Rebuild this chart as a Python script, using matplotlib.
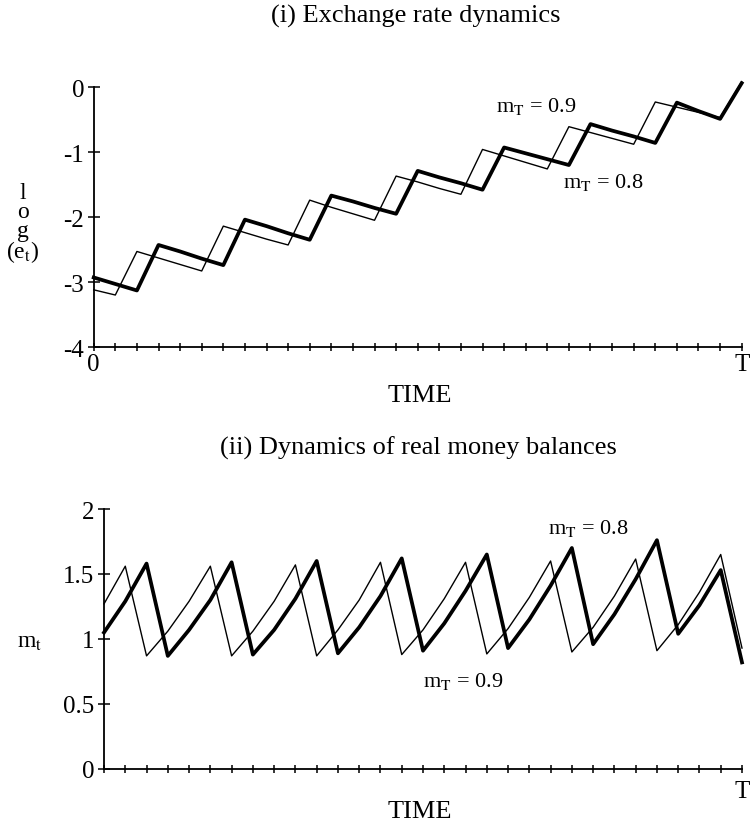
import matplotlib
matplotlib.use("Agg")
import matplotlib.pyplot as plt
import numpy as np

plt.rcParams['font.family'] = ['Liberation Serif', 'DejaVu Serif']
plt.rcParams['mathtext.fontset'] = 'stix'
plt.rcParams['axes.unicode_minus'] = False

# time grid 0..T (T = 30 periods)
t = np.arange(0, 31)

# log(e_t), m_T = 0.9 (thin) and m_T = 0.8 (thick)
loge_09 = [-3.12, -3.20, -2.53, -2.63, -2.73, -2.83, -2.14, -2.24, -2.34, -2.43,
           -1.74, -1.85, -1.95, -2.05, -1.37, -1.46, -1.56, -1.65, -0.96, -1.06,
           -1.16, -1.26, -0.61, -0.70, -0.79, -0.88, -0.23, -0.31, -0.39, -0.47,
           0.08]
loge_08 = [-2.93, -3.03, -3.13, -2.43, -2.53, -2.64, -2.74, -2.04, -2.14, -2.25,
           -2.35, -1.67, -1.76, -1.86, -1.95, -1.29, -1.39, -1.48, -1.58, -0.93,
           -1.02, -1.11, -1.20, -0.57, -0.67, -0.76, -0.86, -0.24, -0.37, -0.49,
           0.06]

# real money balances m_t
m_09 = [1.27, 1.56, 0.87, 1.06, 1.29, 1.56, 0.87, 1.06, 1.29, 1.57,
        0.87, 1.07, 1.30, 1.59, 0.88, 1.07, 1.31, 1.59, 0.885, 1.08,
        1.32, 1.60, 0.90, 1.09, 1.33, 1.615, 0.91, 1.11, 1.36, 1.65,
        0.93]
m_08 = [1.05, 1.29, 1.58, 0.87, 1.07, 1.30, 1.59, 0.88, 1.07, 1.31,
        1.60, 0.89, 1.09, 1.33, 1.62, 0.91, 1.12, 1.37, 1.65, 0.93,
        1.15, 1.41, 1.70, 0.96, 1.19, 1.46, 1.76, 1.04, 1.26, 1.53,
        0.82]

fs = 19
tfs = 18

fig = plt.figure(figsize=(7.51, 8.29), dpi=100)

def style_axes(ax):
    for s in ['top', 'right']:
        ax.spines[s].set_visible(False)
    for s in ['left', 'bottom']:
        ax.spines[s].set_linewidth(1.3)
    ax.set_xlim(0, 30)
    ax.set_xticks(t)
    ax.tick_params(axis='x', direction='inout', length=6, width=1.1, labelsize=tfs, pad=1)
    ax.tick_params(axis='y', direction='inout', length=8, width=1.1, labelsize=tfs, pad=3)

# (i) exchange rate
ax1 = fig.add_axes([0.1248, 0.5802, 0.8628, 0.3136])
ax1.plot(t, loge_09, color='black', lw=1.0, clip_on=False)
ax1.plot(t, loge_08, color='black', lw=2.7, clip_on=False)
style_axes(ax1)
ax1.set_ylim(-4, 0)
ax1.set_yticks([0, -1, -2, -3, -4])
ax1.set_yticklabels(['0', '-1', '-2', '-3', '-4'])
ax1.set_xticklabels(['0'] + [''] * 29 + ['T'])
ax1.text(20.5, -0.29, r'm$_{\rm T}$ = 0.9', fontsize=16, ha='center', va='center')
ax1.text(23.6, -1.45, r'm$_{\rm T}$ = 0.8', fontsize=16, ha='center', va='center')

# (ii) real money balances
ax2 = fig.add_axes([0.1385, 0.0712, 0.8495, 0.3136])
ax2.plot(t, m_09, color='black', lw=1.0, clip_on=False)
ax2.plot(t, m_08, color='black', lw=2.7, clip_on=False)
style_axes(ax2)
ax2.set_ylim(0, 2)
ax2.set_yticks([0, 0.5, 1, 1.5, 2])
ax2.set_yticklabels(['0', '0.5', '1', '1.5', '2'])
ax2.set_xticklabels([''] * 30 + ['T'])
ax2.tick_params(axis='x', pad=5)
ax2.text(22.8, 1.86, r'm$_{\rm T}$ = 0.8', fontsize=16, ha='center', va='center')
ax2.text(16.9, 0.68, r'm$_{\rm T}$ = 0.9', fontsize=16, ha='center', va='center')

# titles and axis labels
fig.text(416 / 751, 1 - 16 / 829, '(i) Exchange rate dynamics', fontsize=fs, ha='center', va='center')
fig.text(420 / 751, 1 - 396 / 829, 'TIME', fontsize=fs, ha='center', va='center')
fig.text(418 / 751, 1 - 448 / 829, '(ii) Dynamics of real money balances', fontsize=fs, ha='center', va='center')
fig.text(420 / 751, 1 - 812 / 829, 'TIME', fontsize=fs, ha='center', va='center')

# stacked y-label log(e_t), one text object
fig.text(23 / 751, 1 - 224 / 829, 'l\no\ng\n(e$_{\\rm t}$)', fontsize=17,
         ha='center', va='center', multialignment='center', linespacing=0.85)
fig.text(30 / 751, 1 - 643 / 829, r'm$_{\rm t}$', fontsize=17, ha='center', va='center')

fig.savefig('out.png', dpi=100)
